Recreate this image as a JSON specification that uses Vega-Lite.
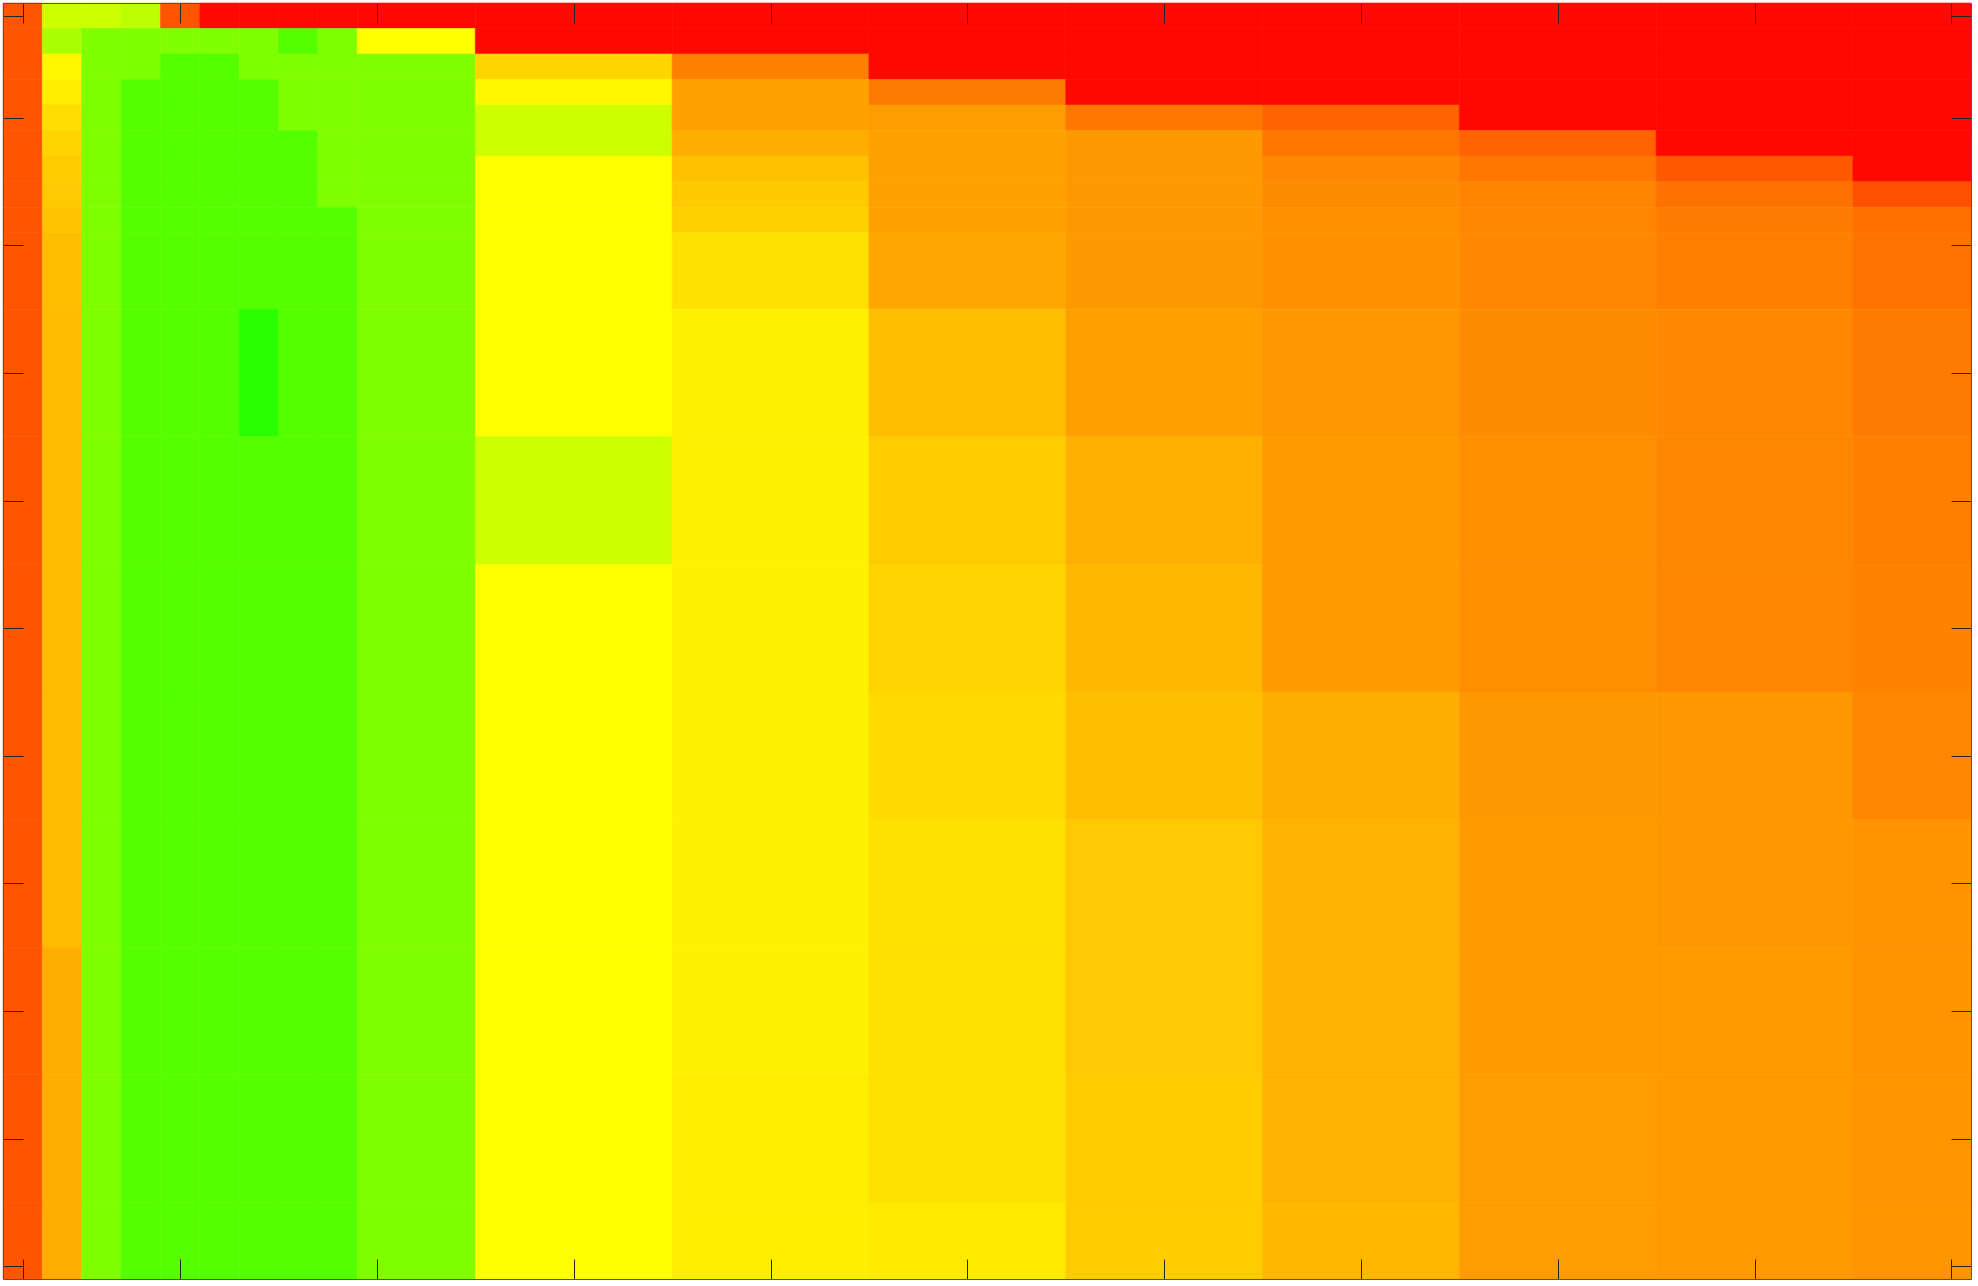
{
"$schema": "https://vega.github.io/schema/vega-lite/v6.json",
"width": 1968, "height": 1276,
"autosize": {"type": "none"},
"padding": {"left": 3, "top": 3, "right": 7, "bottom": 7},
"background": "white",
"config": {"view": {"stroke": null}},
"datasets": {"cells": [
{"r0":0.5,"r1":1.5,"c0":0.5,"c1":1.5,"v":20},{"r0":0.5,"r1":1.5,"c0":1.5,"c1":2.5,"v":72},{"r0":0.5,"r1":1.5,"c0":2.5,"c1":3.5,"v":72},{"r0":0.5,"r1":1.5,"c0":3.5,"c1":4.5,"v":76},{"r0":0.5,"r1":1.5,"c0":4.5,"c1":5.5,"v":20},{"r0":0.5,"r1":1.5,"c0":5.5,"c1":6.5,"v":2},{"r0":0.5,"r1":1.5,"c0":6.5,"c1":7.5,"v":2},{"r0":0.5,"r1":1.5,"c0":7.5,"c1":8.5,"v":2},{"r0":0.5,"r1":1.5,"c0":8.5,"c1":9.5,"v":2},{"r0":0.5,"r1":1.5,"c0":9.5,"c1":12.5,"v":2},{"r0":0.5,"r1":1.5,"c0":12.5,"c1":17.5,"v":2},{"r0":0.5,"r1":1.5,"c0":17.5,"c1":22.5,"v":2},{"r0":0.5,"r1":1.5,"c0":22.5,"c1":27.5,"v":2},{"r0":0.5,"r1":1.5,"c0":27.5,"c1":32.5,"v":2},{"r0":0.5,"r1":1.5,"c0":32.5,"c1":37.5,"v":2},{"r0":0.5,"r1":1.5,"c0":37.5,"c1":42.5,"v":2},{"r0":0.5,"r1":1.5,"c0":42.5,"c1":47.5,"v":2},{"r0":0.5,"r1":1.5,"c0":47.5,"c1":50.5,"v":2},
{"r0":1.5,"r1":2.5,"c0":0.5,"c1":1.5,"v":20},{"r0":1.5,"r1":2.5,"c0":1.5,"c1":2.5,"v":80},{"r0":1.5,"r1":2.5,"c0":2.5,"c1":3.5,"v":90},{"r0":1.5,"r1":2.5,"c0":3.5,"c1":4.5,"v":90},{"r0":1.5,"r1":2.5,"c0":4.5,"c1":5.5,"v":90},{"r0":1.5,"r1":2.5,"c0":5.5,"c1":6.5,"v":90},{"r0":1.5,"r1":2.5,"c0":6.5,"c1":7.5,"v":90},{"r0":1.5,"r1":2.5,"c0":7.5,"c1":8.5,"v":100},{"r0":1.5,"r1":2.5,"c0":8.5,"c1":9.5,"v":90},{"r0":1.5,"r1":2.5,"c0":9.5,"c1":12.5,"v":60},{"r0":1.5,"r1":2.5,"c0":12.5,"c1":17.5,"v":2},{"r0":1.5,"r1":2.5,"c0":17.5,"c1":22.5,"v":2},{"r0":1.5,"r1":2.5,"c0":22.5,"c1":27.5,"v":2},{"r0":1.5,"r1":2.5,"c0":27.5,"c1":32.5,"v":2},{"r0":1.5,"r1":2.5,"c0":32.5,"c1":37.5,"v":2},{"r0":1.5,"r1":2.5,"c0":37.5,"c1":42.5,"v":2},{"r0":1.5,"r1":2.5,"c0":42.5,"c1":47.5,"v":2},{"r0":1.5,"r1":2.5,"c0":47.5,"c1":50.5,"v":2},
{"r0":2.5,"r1":3.5,"c0":0.5,"c1":1.5,"v":20},{"r0":2.5,"r1":3.5,"c0":1.5,"c1":2.5,"v":58},{"r0":2.5,"r1":3.5,"c0":2.5,"c1":3.5,"v":90},{"r0":2.5,"r1":3.5,"c0":3.5,"c1":4.5,"v":90},{"r0":2.5,"r1":3.5,"c0":4.5,"c1":5.5,"v":100},{"r0":2.5,"r1":3.5,"c0":5.5,"c1":6.5,"v":100},{"r0":2.5,"r1":3.5,"c0":6.5,"c1":7.5,"v":90},{"r0":2.5,"r1":3.5,"c0":7.5,"c1":8.5,"v":90},{"r0":2.5,"r1":3.5,"c0":8.5,"c1":9.5,"v":90},{"r0":2.5,"r1":3.5,"c0":9.5,"c1":12.5,"v":90},{"r0":2.5,"r1":3.5,"c0":12.5,"c1":17.5,"v":50},{"r0":2.5,"r1":3.5,"c0":17.5,"c1":22.5,"v":30},{"r0":2.5,"r1":3.5,"c0":22.5,"c1":27.5,"v":2},{"r0":2.5,"r1":3.5,"c0":27.5,"c1":32.5,"v":2},{"r0":2.5,"r1":3.5,"c0":32.5,"c1":37.5,"v":2},{"r0":2.5,"r1":3.5,"c0":37.5,"c1":42.5,"v":2},{"r0":2.5,"r1":3.5,"c0":42.5,"c1":47.5,"v":2},{"r0":2.5,"r1":3.5,"c0":47.5,"c1":50.5,"v":2},
{"r0":3.5,"r1":4.5,"c0":0.5,"c1":1.5,"v":20},{"r0":3.5,"r1":4.5,"c0":1.5,"c1":2.5,"v":56},{"r0":3.5,"r1":4.5,"c0":2.5,"c1":3.5,"v":90},{"r0":3.5,"r1":4.5,"c0":3.5,"c1":4.5,"v":100},{"r0":3.5,"r1":4.5,"c0":4.5,"c1":5.5,"v":100},{"r0":3.5,"r1":4.5,"c0":5.5,"c1":6.5,"v":100},{"r0":3.5,"r1":4.5,"c0":6.5,"c1":7.5,"v":100},{"r0":3.5,"r1":4.5,"c0":7.5,"c1":8.5,"v":90},{"r0":3.5,"r1":4.5,"c0":8.5,"c1":9.5,"v":90},{"r0":3.5,"r1":4.5,"c0":9.5,"c1":12.5,"v":90},{"r0":3.5,"r1":4.5,"c0":12.5,"c1":17.5,"v":58},{"r0":3.5,"r1":4.5,"c0":17.5,"c1":22.5,"v":38},{"r0":3.5,"r1":4.5,"c0":22.5,"c1":27.5,"v":29},{"r0":3.5,"r1":4.5,"c0":27.5,"c1":32.5,"v":2},{"r0":3.5,"r1":4.5,"c0":32.5,"c1":37.5,"v":2},{"r0":3.5,"r1":4.5,"c0":37.5,"c1":42.5,"v":2},{"r0":3.5,"r1":4.5,"c0":42.5,"c1":47.5,"v":2},{"r0":3.5,"r1":4.5,"c0":47.5,"c1":50.5,"v":2},
{"r0":4.5,"r1":5.5,"c0":0.5,"c1":1.5,"v":20},{"r0":4.5,"r1":5.5,"c0":1.5,"c1":2.5,"v":52},{"r0":4.5,"r1":5.5,"c0":2.5,"c1":3.5,"v":90},{"r0":4.5,"r1":5.5,"c0":3.5,"c1":4.5,"v":100},{"r0":4.5,"r1":5.5,"c0":4.5,"c1":5.5,"v":100},{"r0":4.5,"r1":5.5,"c0":5.5,"c1":6.5,"v":100},{"r0":4.5,"r1":5.5,"c0":6.5,"c1":7.5,"v":100},{"r0":4.5,"r1":5.5,"c0":7.5,"c1":8.5,"v":90},{"r0":4.5,"r1":5.5,"c0":8.5,"c1":9.5,"v":90},{"r0":4.5,"r1":5.5,"c0":9.5,"c1":12.5,"v":90},{"r0":4.5,"r1":5.5,"c0":12.5,"c1":17.5,"v":72},{"r0":4.5,"r1":5.5,"c0":17.5,"c1":22.5,"v":38},{"r0":4.5,"r1":5.5,"c0":22.5,"c1":27.5,"v":37},{"r0":4.5,"r1":5.5,"c0":27.5,"c1":32.5,"v":28},{"r0":4.5,"r1":5.5,"c0":32.5,"c1":37.5,"v":23.5},{"r0":4.5,"r1":5.5,"c0":37.5,"c1":42.5,"v":2},{"r0":4.5,"r1":5.5,"c0":42.5,"c1":47.5,"v":2},{"r0":4.5,"r1":5.5,"c0":47.5,"c1":50.5,"v":2},
{"r0":5.5,"r1":6.5,"c0":0.5,"c1":1.5,"v":20},{"r0":5.5,"r1":6.5,"c0":1.5,"c1":2.5,"v":50},{"r0":5.5,"r1":6.5,"c0":2.5,"c1":3.5,"v":90},{"r0":5.5,"r1":6.5,"c0":3.5,"c1":4.5,"v":100},{"r0":5.5,"r1":6.5,"c0":4.5,"c1":5.5,"v":100},{"r0":5.5,"r1":6.5,"c0":5.5,"c1":6.5,"v":100},{"r0":5.5,"r1":6.5,"c0":6.5,"c1":7.5,"v":100},{"r0":5.5,"r1":6.5,"c0":7.5,"c1":8.5,"v":100},{"r0":5.5,"r1":6.5,"c0":8.5,"c1":9.5,"v":90},{"r0":5.5,"r1":6.5,"c0":9.5,"c1":12.5,"v":90},{"r0":5.5,"r1":6.5,"c0":12.5,"c1":17.5,"v":72},{"r0":5.5,"r1":6.5,"c0":17.5,"c1":22.5,"v":41},{"r0":5.5,"r1":6.5,"c0":22.5,"c1":27.5,"v":38},{"r0":5.5,"r1":6.5,"c0":27.5,"c1":32.5,"v":36},{"r0":5.5,"r1":6.5,"c0":32.5,"c1":37.5,"v":28},{"r0":5.5,"r1":6.5,"c0":37.5,"c1":42.5,"v":23.5},{"r0":5.5,"r1":6.5,"c0":42.5,"c1":47.5,"v":2},{"r0":5.5,"r1":6.5,"c0":47.5,"c1":50.5,"v":2},
{"r0":6.5,"r1":7.5,"c0":0.5,"c1":1.5,"v":20},{"r0":6.5,"r1":7.5,"c0":1.5,"c1":2.5,"v":48},{"r0":6.5,"r1":7.5,"c0":2.5,"c1":3.5,"v":90},{"r0":6.5,"r1":7.5,"c0":3.5,"c1":4.5,"v":100},{"r0":6.5,"r1":7.5,"c0":4.5,"c1":5.5,"v":100},{"r0":6.5,"r1":7.5,"c0":5.5,"c1":6.5,"v":100},{"r0":6.5,"r1":7.5,"c0":6.5,"c1":7.5,"v":100},{"r0":6.5,"r1":7.5,"c0":7.5,"c1":8.5,"v":100},{"r0":6.5,"r1":7.5,"c0":8.5,"c1":9.5,"v":90},{"r0":6.5,"r1":7.5,"c0":9.5,"c1":12.5,"v":90},{"r0":6.5,"r1":7.5,"c0":12.5,"c1":17.5,"v":60},{"r0":6.5,"r1":7.5,"c0":17.5,"c1":22.5,"v":45.5},{"r0":6.5,"r1":7.5,"c0":22.5,"c1":27.5,"v":38},{"r0":6.5,"r1":7.5,"c0":27.5,"c1":32.5,"v":36},{"r0":6.5,"r1":7.5,"c0":32.5,"c1":37.5,"v":32},{"r0":6.5,"r1":7.5,"c0":37.5,"c1":42.5,"v":28},{"r0":6.5,"r1":7.5,"c0":42.5,"c1":47.5,"v":21},{"r0":6.5,"r1":7.5,"c0":47.5,"c1":50.5,"v":2},
{"r0":7.5,"r1":8.5,"c0":0.5,"c1":1.5,"v":20},{"r0":7.5,"r1":8.5,"c0":1.5,"c1":2.5,"v":47},{"r0":7.5,"r1":8.5,"c0":2.5,"c1":3.5,"v":90},{"r0":7.5,"r1":8.5,"c0":3.5,"c1":4.5,"v":100},{"r0":7.5,"r1":8.5,"c0":4.5,"c1":5.5,"v":100},{"r0":7.5,"r1":8.5,"c0":5.5,"c1":6.5,"v":100},{"r0":7.5,"r1":8.5,"c0":6.5,"c1":7.5,"v":100},{"r0":7.5,"r1":8.5,"c0":7.5,"c1":8.5,"v":100},{"r0":7.5,"r1":8.5,"c0":8.5,"c1":9.5,"v":90},{"r0":7.5,"r1":8.5,"c0":9.5,"c1":12.5,"v":90},{"r0":7.5,"r1":8.5,"c0":12.5,"c1":17.5,"v":60},{"r0":7.5,"r1":8.5,"c0":17.5,"c1":22.5,"v":47.5},{"r0":7.5,"r1":8.5,"c0":22.5,"c1":27.5,"v":38},{"r0":7.5,"r1":8.5,"c0":27.5,"c1":32.5,"v":36},{"r0":7.5,"r1":8.5,"c0":32.5,"c1":37.5,"v":33},{"r0":7.5,"r1":8.5,"c0":37.5,"c1":42.5,"v":31},{"r0":7.5,"r1":8.5,"c0":42.5,"c1":47.5,"v":26.5},{"r0":7.5,"r1":8.5,"c0":47.5,"c1":50.5,"v":19},
{"r0":8.5,"r1":9.5,"c0":0.5,"c1":1.5,"v":20},{"r0":8.5,"r1":9.5,"c0":1.5,"c1":2.5,"v":46},{"r0":8.5,"r1":9.5,"c0":2.5,"c1":3.5,"v":90},{"r0":8.5,"r1":9.5,"c0":3.5,"c1":4.5,"v":100},{"r0":8.5,"r1":9.5,"c0":4.5,"c1":5.5,"v":100},{"r0":8.5,"r1":9.5,"c0":5.5,"c1":6.5,"v":100},{"r0":8.5,"r1":9.5,"c0":6.5,"c1":7.5,"v":100},{"r0":8.5,"r1":9.5,"c0":7.5,"c1":8.5,"v":100},{"r0":8.5,"r1":9.5,"c0":8.5,"c1":9.5,"v":100},{"r0":8.5,"r1":9.5,"c0":9.5,"c1":12.5,"v":90},{"r0":8.5,"r1":9.5,"c0":12.5,"c1":17.5,"v":60},{"r0":8.5,"r1":9.5,"c0":17.5,"c1":22.5,"v":49},{"r0":8.5,"r1":9.5,"c0":22.5,"c1":27.5,"v":38},{"r0":8.5,"r1":9.5,"c0":27.5,"c1":32.5,"v":36},{"r0":8.5,"r1":9.5,"c0":32.5,"c1":37.5,"v":33.5},{"r0":8.5,"r1":9.5,"c0":37.5,"c1":42.5,"v":31.5},{"r0":8.5,"r1":9.5,"c0":42.5,"c1":47.5,"v":29},{"r0":8.5,"r1":9.5,"c0":47.5,"c1":50.5,"v":26},
{"r0":9.5,"r1":12.5,"c0":0.5,"c1":1.5,"v":20},{"r0":9.5,"r1":12.5,"c0":1.5,"c1":2.5,"v":45},{"r0":9.5,"r1":12.5,"c0":2.5,"c1":3.5,"v":90},{"r0":9.5,"r1":12.5,"c0":3.5,"c1":4.5,"v":100},{"r0":9.5,"r1":12.5,"c0":4.5,"c1":5.5,"v":100},{"r0":9.5,"r1":12.5,"c0":5.5,"c1":6.5,"v":100},{"r0":9.5,"r1":12.5,"c0":6.5,"c1":7.5,"v":100},{"r0":9.5,"r1":12.5,"c0":7.5,"c1":8.5,"v":100},{"r0":9.5,"r1":12.5,"c0":8.5,"c1":9.5,"v":100},{"r0":9.5,"r1":12.5,"c0":9.5,"c1":12.5,"v":90},{"r0":9.5,"r1":12.5,"c0":12.5,"c1":17.5,"v":60},{"r0":9.5,"r1":12.5,"c0":17.5,"c1":22.5,"v":53},{"r0":9.5,"r1":12.5,"c0":22.5,"c1":27.5,"v":39},{"r0":9.5,"r1":12.5,"c0":27.5,"c1":32.5,"v":36},{"r0":9.5,"r1":12.5,"c0":32.5,"c1":37.5,"v":34},{"r0":9.5,"r1":12.5,"c0":37.5,"c1":42.5,"v":32},{"r0":9.5,"r1":12.5,"c0":42.5,"c1":47.5,"v":30},{"r0":9.5,"r1":12.5,"c0":47.5,"c1":50.5,"v":27},
{"r0":12.5,"r1":17.5,"c0":0.5,"c1":1.5,"v":20},{"r0":12.5,"r1":17.5,"c0":1.5,"c1":2.5,"v":44},{"r0":12.5,"r1":17.5,"c0":2.5,"c1":3.5,"v":90},{"r0":12.5,"r1":17.5,"c0":3.5,"c1":4.5,"v":100},{"r0":12.5,"r1":17.5,"c0":4.5,"c1":5.5,"v":100},{"r0":12.5,"r1":17.5,"c0":5.5,"c1":6.5,"v":100},{"r0":12.5,"r1":17.5,"c0":6.5,"c1":7.5,"v":110},{"r0":12.5,"r1":17.5,"c0":7.5,"c1":8.5,"v":100},{"r0":12.5,"r1":17.5,"c0":8.5,"c1":9.5,"v":100},{"r0":12.5,"r1":17.5,"c0":9.5,"c1":12.5,"v":90},{"r0":12.5,"r1":17.5,"c0":12.5,"c1":17.5,"v":60},{"r0":12.5,"r1":17.5,"c0":17.5,"c1":22.5,"v":56.5},{"r0":12.5,"r1":17.5,"c0":22.5,"c1":27.5,"v":45},{"r0":12.5,"r1":17.5,"c0":27.5,"c1":32.5,"v":37.5},{"r0":12.5,"r1":17.5,"c0":32.5,"c1":37.5,"v":35.5},{"r0":12.5,"r1":17.5,"c0":37.5,"c1":42.5,"v":33},{"r0":12.5,"r1":17.5,"c0":42.5,"c1":47.5,"v":32},{"r0":12.5,"r1":17.5,"c0":47.5,"c1":50.5,"v":29},
{"r0":17.5,"r1":22.5,"c0":0.5,"c1":1.5,"v":20},{"r0":17.5,"r1":22.5,"c0":1.5,"c1":2.5,"v":44},{"r0":17.5,"r1":22.5,"c0":2.5,"c1":3.5,"v":90},{"r0":17.5,"r1":22.5,"c0":3.5,"c1":4.5,"v":100},{"r0":17.5,"r1":22.5,"c0":4.5,"c1":5.5,"v":100},{"r0":17.5,"r1":22.5,"c0":5.5,"c1":6.5,"v":100},{"r0":17.5,"r1":22.5,"c0":6.5,"c1":7.5,"v":100},{"r0":17.5,"r1":22.5,"c0":7.5,"c1":8.5,"v":100},{"r0":17.5,"r1":22.5,"c0":8.5,"c1":9.5,"v":100},{"r0":17.5,"r1":22.5,"c0":9.5,"c1":12.5,"v":90},{"r0":17.5,"r1":22.5,"c0":12.5,"c1":17.5,"v":72},{"r0":17.5,"r1":22.5,"c0":17.5,"c1":22.5,"v":57},{"r0":17.5,"r1":22.5,"c0":22.5,"c1":27.5,"v":48},{"r0":17.5,"r1":22.5,"c0":27.5,"c1":32.5,"v":41.5},{"r0":17.5,"r1":22.5,"c0":32.5,"c1":37.5,"v":36.5},{"r0":17.5,"r1":22.5,"c0":37.5,"c1":42.5,"v":33.5},{"r0":17.5,"r1":22.5,"c0":42.5,"c1":47.5,"v":31.5},{"r0":17.5,"r1":22.5,"c0":47.5,"c1":50.5,"v":30},
{"r0":22.5,"r1":27.5,"c0":0.5,"c1":1.5,"v":20},{"r0":22.5,"r1":27.5,"c0":1.5,"c1":2.5,"v":44},{"r0":22.5,"r1":27.5,"c0":2.5,"c1":3.5,"v":90},{"r0":22.5,"r1":27.5,"c0":3.5,"c1":4.5,"v":100},{"r0":22.5,"r1":27.5,"c0":4.5,"c1":5.5,"v":100},{"r0":22.5,"r1":27.5,"c0":5.5,"c1":6.5,"v":100},{"r0":22.5,"r1":27.5,"c0":6.5,"c1":7.5,"v":100},{"r0":22.5,"r1":27.5,"c0":7.5,"c1":8.5,"v":100},{"r0":22.5,"r1":27.5,"c0":8.5,"c1":9.5,"v":100},{"r0":22.5,"r1":27.5,"c0":9.5,"c1":12.5,"v":90},{"r0":22.5,"r1":27.5,"c0":12.5,"c1":17.5,"v":60},{"r0":22.5,"r1":27.5,"c0":17.5,"c1":22.5,"v":57},{"r0":22.5,"r1":27.5,"c0":22.5,"c1":27.5,"v":50},{"r0":22.5,"r1":27.5,"c0":27.5,"c1":32.5,"v":43},{"r0":22.5,"r1":27.5,"c0":32.5,"c1":37.5,"v":36.5},{"r0":22.5,"r1":27.5,"c0":37.5,"c1":42.5,"v":33.5},{"r0":22.5,"r1":27.5,"c0":42.5,"c1":47.5,"v":31.5},{"r0":22.5,"r1":27.5,"c0":47.5,"c1":50.5,"v":30.5},
{"r0":27.5,"r1":32.5,"c0":0.5,"c1":1.5,"v":20},{"r0":27.5,"r1":32.5,"c0":1.5,"c1":2.5,"v":44},{"r0":27.5,"r1":32.5,"c0":2.5,"c1":3.5,"v":90},{"r0":27.5,"r1":32.5,"c0":3.5,"c1":4.5,"v":100},{"r0":27.5,"r1":32.5,"c0":4.5,"c1":5.5,"v":100},{"r0":27.5,"r1":32.5,"c0":5.5,"c1":6.5,"v":100},{"r0":27.5,"r1":32.5,"c0":6.5,"c1":7.5,"v":100},{"r0":27.5,"r1":32.5,"c0":7.5,"c1":8.5,"v":100},{"r0":27.5,"r1":32.5,"c0":8.5,"c1":9.5,"v":100},{"r0":27.5,"r1":32.5,"c0":9.5,"c1":12.5,"v":90},{"r0":27.5,"r1":32.5,"c0":12.5,"c1":17.5,"v":60},{"r0":27.5,"r1":32.5,"c0":17.5,"c1":22.5,"v":57},{"r0":27.5,"r1":32.5,"c0":22.5,"c1":27.5,"v":51.5},{"r0":27.5,"r1":32.5,"c0":27.5,"c1":32.5,"v":45},{"r0":27.5,"r1":32.5,"c0":32.5,"c1":37.5,"v":41},{"r0":27.5,"r1":32.5,"c0":37.5,"c1":42.5,"v":36},{"r0":27.5,"r1":32.5,"c0":42.5,"c1":47.5,"v":35.5},{"r0":27.5,"r1":32.5,"c0":47.5,"c1":50.5,"v":31.5},
{"r0":32.5,"r1":37.5,"c0":0.5,"c1":1.5,"v":20},{"r0":32.5,"r1":37.5,"c0":1.5,"c1":2.5,"v":44},{"r0":32.5,"r1":37.5,"c0":2.5,"c1":3.5,"v":90},{"r0":32.5,"r1":37.5,"c0":3.5,"c1":4.5,"v":100},{"r0":32.5,"r1":37.5,"c0":4.5,"c1":5.5,"v":100},{"r0":32.5,"r1":37.5,"c0":5.5,"c1":6.5,"v":100},{"r0":32.5,"r1":37.5,"c0":6.5,"c1":7.5,"v":100},{"r0":32.5,"r1":37.5,"c0":7.5,"c1":8.5,"v":100},{"r0":32.5,"r1":37.5,"c0":8.5,"c1":9.5,"v":100},{"r0":32.5,"r1":37.5,"c0":9.5,"c1":12.5,"v":90},{"r0":32.5,"r1":37.5,"c0":12.5,"c1":17.5,"v":60},{"r0":32.5,"r1":37.5,"c0":17.5,"c1":22.5,"v":57},{"r0":32.5,"r1":37.5,"c0":22.5,"c1":27.5,"v":53},{"r0":32.5,"r1":37.5,"c0":27.5,"c1":32.5,"v":47},{"r0":32.5,"r1":37.5,"c0":32.5,"c1":37.5,"v":42},{"r0":32.5,"r1":37.5,"c0":37.5,"c1":42.5,"v":36.5},{"r0":32.5,"r1":37.5,"c0":42.5,"c1":47.5,"v":35.5},{"r0":32.5,"r1":37.5,"c0":47.5,"c1":50.5,"v":34.5},
{"r0":37.5,"r1":42.5,"c0":0.5,"c1":1.5,"v":20},{"r0":37.5,"r1":42.5,"c0":1.5,"c1":2.5,"v":41},{"r0":37.5,"r1":42.5,"c0":2.5,"c1":3.5,"v":90},{"r0":37.5,"r1":42.5,"c0":3.5,"c1":4.5,"v":100},{"r0":37.5,"r1":42.5,"c0":4.5,"c1":5.5,"v":100},{"r0":37.5,"r1":42.5,"c0":5.5,"c1":6.5,"v":100},{"r0":37.5,"r1":42.5,"c0":6.5,"c1":7.5,"v":100},{"r0":37.5,"r1":42.5,"c0":7.5,"c1":8.5,"v":100},{"r0":37.5,"r1":42.5,"c0":8.5,"c1":9.5,"v":100},{"r0":37.5,"r1":42.5,"c0":9.5,"c1":12.5,"v":90},{"r0":37.5,"r1":42.5,"c0":12.5,"c1":17.5,"v":60},{"r0":37.5,"r1":42.5,"c0":17.5,"c1":22.5,"v":57},{"r0":37.5,"r1":42.5,"c0":22.5,"c1":27.5,"v":53},{"r0":37.5,"r1":42.5,"c0":27.5,"c1":32.5,"v":47},{"r0":37.5,"r1":42.5,"c0":32.5,"c1":37.5,"v":42},{"r0":37.5,"r1":42.5,"c0":37.5,"c1":42.5,"v":36.5},{"r0":37.5,"r1":42.5,"c0":42.5,"c1":47.5,"v":36.5},{"r0":37.5,"r1":42.5,"c0":47.5,"c1":50.5,"v":34.5},
{"r0":42.5,"r1":47.5,"c0":0.5,"c1":1.5,"v":20},{"r0":42.5,"r1":47.5,"c0":1.5,"c1":2.5,"v":41},{"r0":42.5,"r1":47.5,"c0":2.5,"c1":3.5,"v":90},{"r0":42.5,"r1":47.5,"c0":3.5,"c1":4.5,"v":100},{"r0":42.5,"r1":47.5,"c0":4.5,"c1":5.5,"v":100},{"r0":42.5,"r1":47.5,"c0":5.5,"c1":6.5,"v":100},{"r0":42.5,"r1":47.5,"c0":6.5,"c1":7.5,"v":100},{"r0":42.5,"r1":47.5,"c0":7.5,"c1":8.5,"v":100},{"r0":42.5,"r1":47.5,"c0":8.5,"c1":9.5,"v":100},{"r0":42.5,"r1":47.5,"c0":9.5,"c1":12.5,"v":90},{"r0":42.5,"r1":47.5,"c0":12.5,"c1":17.5,"v":60},{"r0":42.5,"r1":47.5,"c0":17.5,"c1":22.5,"v":56},{"r0":42.5,"r1":47.5,"c0":22.5,"c1":27.5,"v":53},{"r0":42.5,"r1":47.5,"c0":27.5,"c1":32.5,"v":48},{"r0":42.5,"r1":47.5,"c0":32.5,"c1":37.5,"v":42},{"r0":42.5,"r1":47.5,"c0":37.5,"c1":42.5,"v":37},{"r0":42.5,"r1":47.5,"c0":42.5,"c1":47.5,"v":36.5},{"r0":42.5,"r1":47.5,"c0":47.5,"c1":50.5,"v":35},
{"r0":47.5,"r1":50.5,"c0":0.5,"c1":1.5,"v":20},{"r0":47.5,"r1":50.5,"c0":1.5,"c1":2.5,"v":41},{"r0":47.5,"r1":50.5,"c0":2.5,"c1":3.5,"v":90},{"r0":47.5,"r1":50.5,"c0":3.5,"c1":4.5,"v":100},{"r0":47.5,"r1":50.5,"c0":4.5,"c1":5.5,"v":100},{"r0":47.5,"r1":50.5,"c0":5.5,"c1":6.5,"v":100},{"r0":47.5,"r1":50.5,"c0":6.5,"c1":7.5,"v":100},{"r0":47.5,"r1":50.5,"c0":7.5,"c1":8.5,"v":100},{"r0":47.5,"r1":50.5,"c0":8.5,"c1":9.5,"v":100},{"r0":47.5,"r1":50.5,"c0":9.5,"c1":12.5,"v":90},{"r0":47.5,"r1":50.5,"c0":12.5,"c1":17.5,"v":60},{"r0":47.5,"r1":50.5,"c0":17.5,"c1":22.5,"v":56},{"r0":47.5,"r1":50.5,"c0":22.5,"c1":27.5,"v":55},{"r0":47.5,"r1":50.5,"c0":27.5,"c1":32.5,"v":48},{"r0":47.5,"r1":50.5,"c0":32.5,"c1":37.5,"v":43},{"r0":47.5,"r1":50.5,"c0":37.5,"c1":42.5,"v":37},{"r0":47.5,"r1":50.5,"c0":42.5,"c1":47.5,"v":36.5},{"r0":47.5,"r1":50.5,"c0":47.5,"c1":50.5,"v":35}
]},
"data": {"name": "cells"},
"layer": [
 {"mark": {"type": "rect", "strokeWidth": 0.6},
  "encoding": {
   "x": {"field": "c0", "type": "quantitative", "scale": {"domain": [0.5, 50.5], "nice": false, "zero": false},
         "axis": {"orient": "bottom", "values": [1,5,10,15,20,25,30,35,40,45,50], "labels": false, "title": null, "grid": false, "domain": true, "domainColor": "#555555", "domainWidth": 1, "ticks": true, "tickColor": "#262626", "tickWidth": 1, "tickSize": -20, "zindex": 2}},
   "x2": {"field": "c1"},
   "y": {"field": "r0", "type": "quantitative", "scale": {"domain": [0.5, 50.5], "nice": false, "zero": false, "reverse": true},
         "axis": {"orient": "left", "values": [1,5,10,15,20,25,30,35,40,45,50], "labels": false, "title": null, "grid": false, "domain": true, "domainColor": "#555555", "domainWidth": 1, "ticks": true, "tickColor": "#262626", "tickWidth": 1, "tickSize": -20, "zindex": 2}},
   "y2": {"field": "r1"},
   "fill": {"field": "v", "type": "quantitative", "scale": {"domain": [0, 60, 120], "range": ["#ff0000", "#ffff00", "#00ff00"], "interpolate": "rgb"}, "legend": null},
   "stroke": {"field": "v", "type": "quantitative", "scale": {"domain": [0, 60, 120], "range": ["#ff0000", "#ffff00", "#00ff00"], "interpolate": "rgb"}, "legend": null}
  }},
 {"mark": {"type": "rect", "opacity": 0},
  "encoding": {
   "x": {"field": "c0", "type": "quantitative",
         "axis": {"orient": "top", "values": [1,5,10,15,20,25,30,35,40,45,50], "labels": false, "title": null, "grid": false, "domain": true, "domainColor": "#555555", "domainWidth": 1, "ticks": true, "tickColor": "#262626", "tickWidth": 1, "tickSize": -20, "zindex": 2}},
   "x2": {"field": "c1"},
   "y": {"field": "r0", "type": "quantitative",
         "axis": {"orient": "right", "values": [1,5,10,15,20,25,30,35,40,45,50], "labels": false, "title": null, "grid": false, "domain": true, "domainColor": "#555555", "domainWidth": 1, "ticks": true, "tickColor": "#262626", "tickWidth": 1, "tickSize": -20, "zindex": 2}},
   "y2": {"field": "r1"}
  }}
],
"resolve": {"axis": {"x": "independent", "y": "independent"}}
}
